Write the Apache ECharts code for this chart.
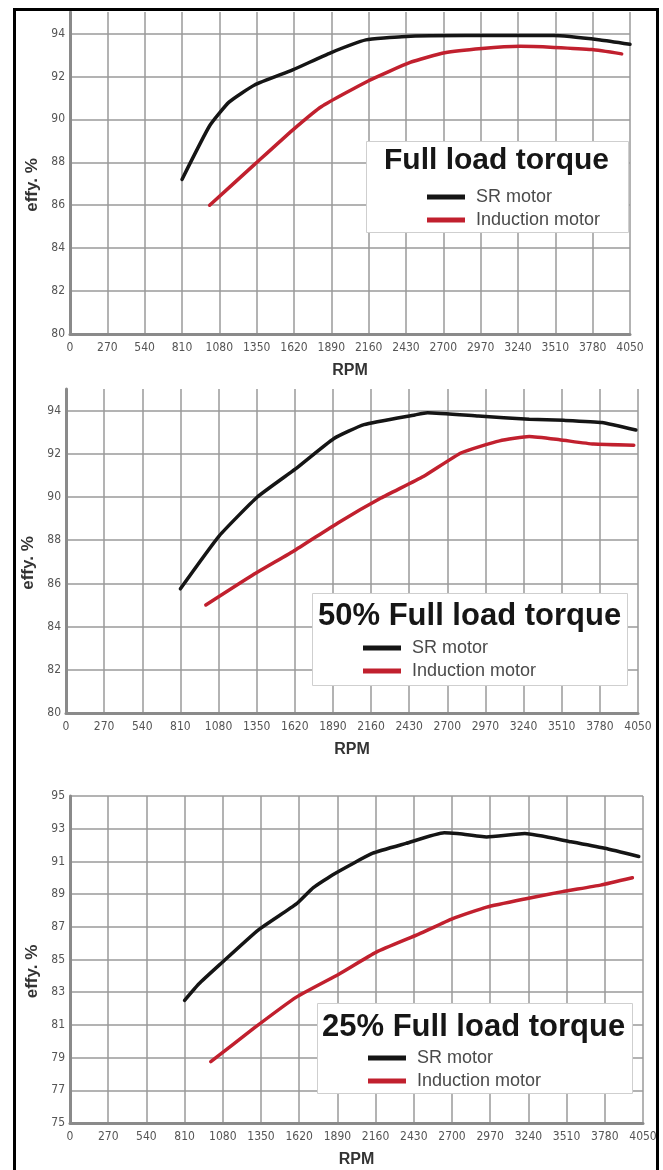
<!DOCTYPE html>
<html><head><meta charset="utf-8">
<script src="https://cdn.jsdelivr.net/npm/echarts@6/dist/echarts.min.js"></script>
<style>html,body{margin:0;padding:0;background:#fff}#c{width:663px;height:1170px}</style>
</head><body><div id="c"></div>
<script>
// ---- data ----
const seriesNames = ['SR motor', 'Induction motor'];
const panelTitles = ['Full load torque', '50% Full load torque', '25% Full load torque'];

const fullSR_rpm = [810, 1010, 1150, 1335, 1610, 1885, 2140, 2400, 2860, 3500, 3835, 4050];
const fullSR_eff = [87.2, 89.7, 90.8, 91.6, 92.3, 93.1, 93.7, 93.85, 93.9, 93.9, 93.7, 93.5];
const fullIM_rpm = [1010, 1335, 1610, 1820, 2160, 2460, 2710, 2980, 3255, 3500, 3775, 3990];
const fullIM_eff = [86.0, 87.9, 89.5, 90.6, 91.8, 92.65, 93.1, 93.3, 93.4, 93.35, 93.25, 93.05];

const halfSR_rpm = [810, 1085, 1355, 1625, 1895, 2110, 2470, 2560, 2920, 3280, 3525, 3795, 4035];
const halfSR_eff = [85.75, 88.2, 90.0, 91.3, 92.7, 93.35, 93.8, 93.9, 93.75, 93.6, 93.55, 93.45, 93.1];
const halfIM_rpm = [990, 1325, 1625, 1925, 2230, 2530, 2800, 3070, 3280, 3495, 3735, 4020];
const halfIM_eff = [85.0, 86.4, 87.55, 88.8, 89.95, 90.95, 92.05, 92.6, 92.8, 92.65, 92.45, 92.4];

const quarSR_rpm = [810, 910, 1060, 1330, 1600, 1720, 1870, 2140, 2375, 2645, 2735, 2945, 3215, 3540, 3780, 4020];
const quarSR_eff = [82.5, 83.5, 84.7, 86.8, 88.4, 89.4, 90.25, 91.5, 92.1, 92.75, 92.7, 92.5, 92.7, 92.2, 91.8, 91.3];
const quarIM_rpm = [995, 1300, 1600, 1900, 2165, 2465, 2705, 2945, 3215, 3480, 3750, 3975];
const quarIM_eff = [78.75, 80.8, 82.7, 84.1, 85.45, 86.55, 87.5, 88.2, 88.7, 89.15, 89.55, 90.0];

const xMin = 0, xMax = 4050, xStep = 270;
const yRanges = [[80, 95, 2], [80, 95, 2], [75, 95, 2]];

// ---- layout / style ----
const narrow = "'Liberation Sans Narrow','DejaVu Sans Condensed','Liberation Sans',sans-serif";
const sans = "'Liberation Sans',Arial,sans-serif";
const colors = ['#151515', '#c1202e'];
const grids = [
  {left: 70, top: 12, width: 560, height: 322},
  {left: 66, top: 389, width: 572, height: 324},
  {left: 70, top: 796, width: 573, height: 327}
];
const boxes = [
  {x: 366, y: 141, w: 262, h: 91, tx: 384, ty: 161, fs: 30, lx: 422, ly: 183},
  {x: 312, y: 593, w: 315, h: 92, tx: 318, ty: 616, fs: 31, lx: 358, ly: 634},
  {x: 317, y: 1003, w: 315, h: 90, tx: 322, ty: 1027, fs: 31, lx: 363, ly: 1044}
];

const pairs = (xs, ys) => xs.map((x, i) => [x, ys[i]]);
const panelData = [
  [pairs(fullSR_rpm, fullSR_eff), pairs(fullIM_rpm, fullIM_eff)],
  [pairs(halfSR_rpm, halfSR_eff), pairs(halfIM_rpm, halfIM_eff)],
  [pairs(quarSR_rpm, quarSR_eff), pairs(quarIM_rpm, quarIM_eff)]
];
const plain = v => String(v);

const xAxes = [], yAxes = [], series = [], legends = [], graphics = [];
grids.forEach((g, i) => {
  xAxes.push({
    type: 'value', gridIndex: i, min: xMin, max: xMax, interval: xStep,
    name: 'RPM', nameLocation: 'middle', nameGap: 29,
    nameTextStyle: {fontFamily: sans, fontWeight: 'bold', fontSize: 16, color: '#333'},
    axisLine: {show: true, lineStyle: {color: '#8a8a8a', width: 3}},
    axisTick: {show: false},
    axisLabel: {fontFamily: narrow, fontSize: 12, color: '#555', margin: 8, formatter: plain},
    splitLine: {show: true, lineStyle: {color: '#9a9a9a', width: 1.5}}
  });
  const yr = yRanges[i];
  const hideTop = i < 2;
  yAxes.push({
    type: 'value', gridIndex: i, min: yr[0], max: yr[1], interval: yr[2],
    name: 'effy. %', nameLocation: 'middle', nameGap: 24, nameRotate: 90,
    nameTextStyle: {fontFamily: sans, fontWeight: 'bold', fontSize: 17, color: '#333', padding: [0, 24, 0, 0]},
    axisLine: {show: true, lineStyle: {color: '#8a8a8a', width: 3}},
    axisTick: {show: false},
    axisLabel: {fontFamily: narrow, fontSize: 12, color: '#555', margin: 5, showMaxLabel: !hideTop, formatter: plain},
    splitLine: {show: true, showMaxLine: !hideTop, lineStyle: {color: '#9a9a9a', width: 1.5}}
  });
  panelData[i].forEach((d, k) => {
    series.push({
      name: seriesNames[k], type: 'line', xAxisIndex: i, yAxisIndex: i,
      data: d, showSymbol: false, smooth: 0.15,
      lineStyle: {color: colors[k], width: 3.5, cap: 'round', join: 'round'},
      itemStyle: {color: colors[k]}, z: 2
    });
  });
  const b = boxes[i];
  legends.push({
    data: seriesNames, orient: 'vertical', left: b.lx, top: b.ly,
    icon: 'rect', itemWidth: 38, itemHeight: 5, itemGap: 5, selectedMode: false,
    textStyle: {fontFamily: sans, fontSize: 18, color: '#4a4a4a', padding: [0, 0, 0, 6]},
    z: 5
  });
  graphics.push({
    type: 'rect', z: 3,
    shape: {x: b.x + 0.5, y: b.y + 0.5, width: b.w, height: b.h},
    style: {fill: '#fff', stroke: '#cfcfcf', lineWidth: 1}
  });
  graphics.push({
    type: 'text', z: 4, x: b.tx, y: b.ty,
    style: {text: panelTitles[i], fontFamily: sans, fontWeight: 'bold', fontSize: b.fs,
            fill: '#161616', textAlign: 'left', textVerticalAlign: 'middle'}
  });
});
graphics.push({
  type: 'rect', z: 10,
  shape: {x: 14.5, y: 9.5, width: 643, height: 1200},
  style: {fill: 'none', stroke: '#000', lineWidth: 3}
});

const chart = echarts.init(document.getElementById('c'), null, {renderer: 'canvas'});
chart.setOption({
  animation: false,
  backgroundColor: '#fff',
  grid: grids,
  xAxis: xAxes,
  yAxis: yAxes,
  legend: legends,
  graphic: graphics,
  series: series
});
</script></body></html>
